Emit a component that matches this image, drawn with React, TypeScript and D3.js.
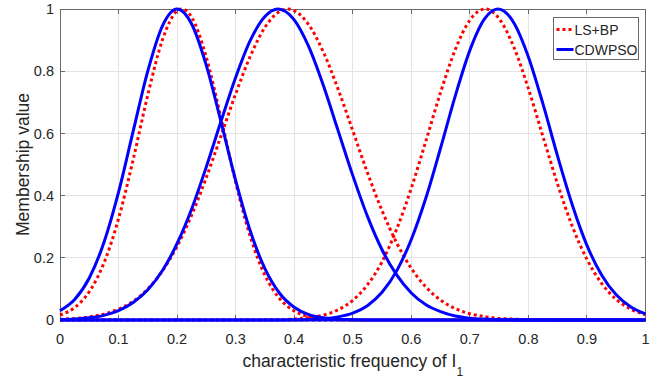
import React from 'react';
import * as d3 from 'd3';

// ---- data ----
const xGrid = [0, 0.025, 0.05, 0.075, 0.1, 0.125, 0.15, 0.175, 0.2, 0.225, 0.25, 0.275, 0.3, 0.325, 0.35, 0.375, 0.4, 0.425, 0.45, 0.475, 0.5, 0.525, 0.55, 0.575, 0.6, 0.625, 0.65, 0.675, 0.7, 0.725, 0.75, 0.775, 0.8, 0.825, 0.85, 0.875, 0.9, 0.925, 0.95, 0.975, 1];

// LS+BP membership functions
const lsbpMf1 = [0.016, 0.04, 0.091, 0.183, 0.326, 0.516, 0.724, 0.901, 0.994, 0.973, 0.844, 0.649, 0.443, 0.268, 0.144, 0.069, 0.029, 0.011, 0.004, 0.001, 0.0003, 0, 0, 0, 0, 0, 0, 0, 0, 0, 0, 0, 0, 0, 0, 0, 0, 0, 0, 0, 0];
const lsbpMf2 = [0.002, 0.005, 0.01, 0.019, 0.035, 0.06, 0.1, 0.158, 0.237, 0.338, 0.459, 0.592, 0.727, 0.848, 0.941, 0.992, 0.995, 0.949, 0.861, 0.742, 0.609, 0.474, 0.352, 0.248, 0.166, 0.106, 0.064, 0.037, 0.02, 0.011, 0.005, 0.003, 0.001, 0.0005, 0.0002, 0, 0, 0, 0, 0, 0];
const lsbpMf3 = [0, 0, 0, 0, 0, 0, 0, 0, 0, 0, 0, 0, 0.0001, 0.0002, 0.0005, 0.0013, 0.003, 0.008, 0.016, 0.033, 0.063, 0.113, 0.187, 0.292, 0.424, 0.576, 0.732, 0.869, 0.964, 1, 0.969, 0.878, 0.744, 0.589, 0.436, 0.301, 0.195, 0.118, 0.066, 0.035, 0.017];
const lsbpPeakX = [0.208, 0.389, 0.726];
const lsbpPeakY = [1, 1, 1];

// CDWPSO membership functions
const cdwpsoMf1 = [0.03, 0.066, 0.135, 0.249, 0.411, 0.607, 0.801, 0.946, 1, 0.951, 0.818, 0.637, 0.449, 0.286, 0.165, 0.086, 0.041, 0.017, 0.007, 0.002, 0.001, 0, 0, 0, 0, 0, 0, 0, 0, 0, 0, 0, 0, 0, 0, 0, 0, 0, 0, 0, 0];
const cdwpsoMf2 = [0.001, 0.003, 0.007, 0.015, 0.03, 0.056, 0.097, 0.159, 0.246, 0.358, 0.493, 0.639, 0.78, 0.899, 0.976, 1, 0.965, 0.878, 0.753, 0.609, 0.465, 0.334, 0.226, 0.145, 0.087, 0.049, 0.027, 0.013, 0.006, 0.003, 0.001, 0.0005, 0, 0, 0, 0, 0, 0, 0, 0, 0];
const cdwpsoMf3 = [0, 0, 0, 0, 0, 0, 0, 0, 0, 0, 0, 0, 0, 0, 0, 0.0002, 0.0006, 0.0016, 0.004, 0.01, 0.022, 0.046, 0.089, 0.158, 0.259, 0.393, 0.553, 0.72, 0.867, 0.968, 1, 0.956, 0.846, 0.694, 0.526, 0.37, 0.24, 0.145, 0.081, 0.042, 0.02];
const cdwpsoPeakX = [0.2, 0.3725, 0.748];
const cdwpsoPeakY = [1, 1, 1];

// fourth membership function: zero over the whole range
const zeroMfX = [0, 1];
const zeroMfY = [0, 0];

const xTicks = [0, 0.1, 0.2, 0.3, 0.4, 0.5, 0.6, 0.7, 0.8, 0.9, 1];
const xTickLabels = ['0', '0.1', '0.2', '0.3', '0.4', '0.5', '0.6', '0.7', '0.8', '0.9', '1'];
const yTicks = [0, 0.2, 0.4, 0.6, 0.8, 1];
const yTickLabels = ['0', '0.2', '0.4', '0.6', '0.8', '1'];
const seriesNames = ['LS+BP', 'CDWPSO'];

// ---- layout / style ----
const W = 658;
const H = 380;
const L = 60;
const R = 645.5;
const T = 9;
const B = 320;
const FONT = "'Liberation Sans', Arial, Helvetica, sans-serif";
const TEXT = '#262626';
const AXIS = '#6a6a6a';
const GRID = '#e4e4e4';
const RED = '#ff0000';
const BLUE = '#0000ff';

type P = [number, number];

function buildPoints(ys: number[], px: number, py: number): P[] {
  const pts: P[] = xGrid
    .map((x, i) => [x, ys[i]] as P)
    .filter(([x]) => Math.abs(x - px) > 0.004);
  pts.push([px, py]);
  pts.sort((a, b) => a[0] - b[0]);
  return pts;
}

export default function App() {
  const x = d3.scaleLinear().domain([0, 1]).range([L, R]);
  const y = d3.scaleLinear().domain([0, 1]).range([B, T]);
  const line = d3
    .line<P>()
    .x((d) => x(d[0]))
    .y((d) => y(d[1]))
    .curve(d3.curveMonotoneX);

  const lsbp = [lsbpMf1, lsbpMf2, lsbpMf3].map((ys, i) => buildPoints(ys, lsbpPeakX[i], lsbpPeakY[i]));
  const cdw = [cdwpsoMf1, cdwpsoMf2, cdwpsoMf3].map((ys, i) => buildPoints(ys, cdwpsoPeakX[i], cdwpsoPeakY[i]));
  const zero: P[] = zeroMfX.map((v, i) => [v, zeroMfY[i]] as P);

  const tickLen = 5;

  return (
    <svg
      width={W}
      height={H}
      style={{ position: 'absolute', left: 0, top: 0, background: '#fff' }}
      fontFamily={FONT}
    >
      {/* grid */}
      <g shapeRendering="crispEdges">
        {xTicks.map((t) => (
          <line key={'gx' + t} x1={x(t)} x2={x(t)} y1={T} y2={B} stroke={GRID} strokeWidth={1} />
        ))}
        {yTicks.map((t) => (
          <line key={'gy' + t} x1={L} x2={R} y1={y(t)} y2={y(t)} stroke={GRID} strokeWidth={1} />
        ))}
      </g>

      {/* box + ticks */}
      <g shapeRendering="crispEdges" stroke={AXIS} strokeWidth={1} fill="none">
        <rect x={L} y={T} width={R - L} height={B - T} />
        {xTicks.map((t) => (
          <g key={'tx' + t}>
            <line x1={x(t)} x2={x(t)} y1={B} y2={B - tickLen} />
            <line x1={x(t)} x2={x(t)} y1={T} y2={T + tickLen} />
          </g>
        ))}
        {yTicks.map((t) => (
          <g key={'ty' + t}>
            <line x1={L} x2={L + tickLen} y1={y(t)} y2={y(t)} />
            <line x1={R} x2={R - tickLen} y1={y(t)} y2={y(t)} />
          </g>
        ))}
      </g>

      {/* LS+BP (dotted red) */}
      <g fill="none" stroke={RED} strokeWidth={3} strokeDasharray="3 3">
        <path d={line(zero) || ''} />
        {lsbp.map((pts, i) => (
          <path key={'r' + i} d={line(pts) || ''} />
        ))}
      </g>

      {/* CDWPSO (solid blue) */}
      <g fill="none" stroke={BLUE} strokeWidth={3} strokeLinejoin="round">
        <path d={line(zero) || ''} />
        {cdw.map((pts, i) => (
          <path key={'b' + i} d={line(pts) || ''} />
        ))}
      </g>

      {/* tick labels */}
      <g fill={TEXT} fontSize={14.5}>
        {xTicks.map((t, i) => (
          <text key={'lx' + t} x={x(t)} y={343.5} textAnchor="middle">
            {xTickLabels[i]}
          </text>
        ))}
        {yTicks.map((t, i) => (
          <text key={'ly' + t} x={54} y={y(t) + 5.2} textAnchor="end">
            {yTickLabels[i]}
          </text>
        ))}
      </g>

      {/* axis labels */}
      <text
        transform={`translate(28.5, ${(T + B) / 2}) rotate(-90)`}
        textAnchor="middle"
        fontSize={17.5}
        fill={TEXT}
      >
        Membership value
      </text>
      <text x={(L + R) / 2} y={366.5} textAnchor="middle" fontSize={17.5} fill={TEXT}>
        characteristic frequency of I
        <tspan dy={9.5} fontSize={12}>
          1
        </tspan>
      </text>

      {/* legend */}
      <g>
        <rect x={553.5} y={17} width={85} height={42} fill="#fff" stroke={AXIS} strokeWidth={1} shapeRendering="crispEdges" />
        <line x1={556.5} x2={573.5} y1={29.5} y2={29.5} stroke={RED} strokeWidth={3} strokeDasharray="3 3" />
        <line x1={556.5} x2={573.5} y1={49.5} y2={49.5} stroke={BLUE} strokeWidth={3} />
        <text x={574.5} y={34.8} fontSize={14} fill={TEXT}>
          {seriesNames[0]}
        </text>
        <text x={574.5} y={54.8} fontSize={14} fill={TEXT}>
          {seriesNames[1]}
        </text>
      </g>
    </svg>
  );
}
